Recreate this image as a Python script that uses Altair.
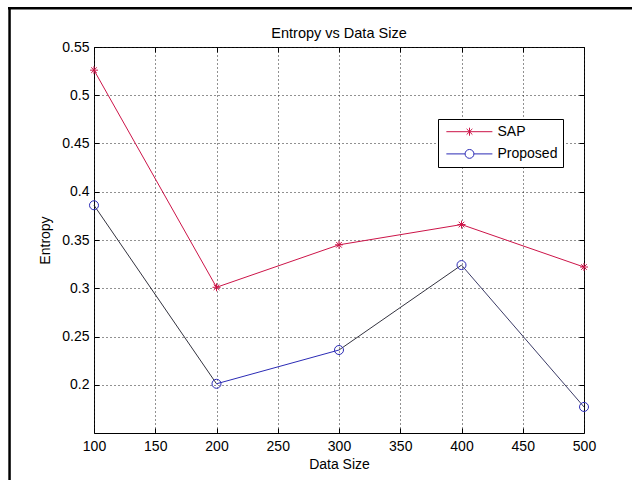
import altair as alt
import pandas as pd

# ---- data ----
data_size = [100, 200, 300, 400, 500]
sap = [0.526, 0.301, 0.345, 0.366, 0.322]
proposed = [0.386, 0.201, 0.236, 0.324, 0.177]
series_names = ["SAP", "Proposed"]
x_ticks = [100, 150, 200, 250, 300, 350, 400, 450, 500]
y_ticks = [0.2, 0.25, 0.3, 0.35, 0.4, 0.45, 0.5, 0.55]

# ---- styles ----
RED = "#cc1448"
BLUE = "#2b2bb5"
segment_colors = ["#33333f", "#2b2bb5", "#33333f", "#3b3b66"]
FONT = "Liberation Sans"
W, H = 490, 386
PAD_L, PAD_T = 94, 47
TOTAL_H = 480

ASTERISK = "M-1,0L1,0M0,-1L0,1M-0.7,-0.7L0.7,0.7M-0.7,0.7L0.7,-0.7"
LEG_SAP = ("M-0.89,0L0.88,0M0,-0.154L0,0.154"
           "M-0.11,-0.11L0.11,0.11M-0.11,0.11L0.11,-0.11")
LEG_PROP = ("M-0.89,0L-0.17,0M0.17,0L0.88,0"
            "M0.17,0A0.17,0.17,0,1,1,-0.17,0A0.17,0.17,0,1,1,0.17,0")

df = pd.DataFrame({
    "size": data_size * 2,
    "entropy": sap + proposed,
    "series": ["SAP"] * len(sap) + ["Proposed"] * len(proposed),
})
seg = pd.DataFrame({
    "x": data_size[:-1], "x2": data_size[1:],
    "y": proposed[:-1], "y2": proposed[1:],
    "seg": [f"s{i}" for i in range(len(data_size) - 1)],
})
one = pd.DataFrame({"a": [0]})

xs = alt.Scale(domain=[100, 500], nice=False, zero=False)
ys = alt.Scale(domain=[0.15, 0.55], nice=False, zero=False)

main_x_axis = alt.Axis(values=x_ticks, grid=True, gridDash=[1, 3], gridColor="#222",
                       gridOpacity=1, domain=False, ticks=False, labelFont=FONT,
                       labelFontSize=14, labelColor="black", labelPadding=6,
                       labelFlush=False,
                       title="Data Size", titleFont=FONT, titleFontSize=14,
                       titleFontWeight="normal", titleColor="black", titlePadding=4)
main_y_axis = alt.Axis(values=y_ticks, format=".2~f", grid=True, gridDash=[1, 3],
                       gridColor="#222", gridOpacity=1, domain=False, ticks=False,
                       labelFont=FONT, labelFontSize=14, labelColor="black",
                       labelPadding=5, labelFlush=False, title="Entropy", titleFont=FONT,
                       titleFontSize=14, titleFontWeight="normal",
                       titleColor="black", titlePadding=9)

base = alt.Chart(df)

sap_line = base.transform_filter(alt.datum.series == "SAP").mark_line(
    color=RED, strokeWidth=1).encode(
    x=alt.X("size:Q", scale=xs, axis=main_x_axis),
    y=alt.Y("entropy:Q", scale=ys, axis=main_y_axis),
)
sap_pts = base.transform_filter(alt.datum.series == "SAP").mark_point(
    shape=ASTERISK, size=64, color=RED, strokeWidth=1, filled=False, opacity=1).encode(
    x=alt.X("size:Q", scale=xs, axis=None),
    y=alt.Y("entropy:Q", scale=ys, axis=None),
)
prop_segs = alt.Chart(seg).mark_rule(strokeWidth=1).encode(
    x=alt.X("x:Q", scale=xs, axis=None),
    x2="x2:Q",
    y=alt.Y("y:Q", scale=ys, axis=None),
    y2="y2:Q",
    color=alt.Color("seg:N", scale=alt.Scale(domain=seg["seg"].tolist(),
                                             range=segment_colors), legend=None),
)
prop_pts = base.transform_filter(alt.datum.series == "Proposed").mark_point(
    shape="circle", size=81, color=BLUE, strokeWidth=1, filled=False, opacity=1).encode(
    x=alt.X("size:Q", scale=xs, axis=None),
    y=alt.Y("entropy:Q", scale=ys, axis=None),
)

leg = alt.Legend(title=None, orient="none", legendX=438 - PAD_L, legendY=119 - PAD_T,
                 padding=5, strokeColor="black", fillColor="white", cornerRadius=0,
                 symbolSize=2704, symbolStrokeWidth=1, symbolOpacity=1,
                 symbolFillColor="transparent", labelFont=FONT, labelFontSize=14,
                 labelColor="black", labelOffset=1.5, clipHeight=15.4, rowPadding=6.2)
legend_layer = base.mark_point(filled=False, opacity=0).encode(
    x=alt.X("size:Q", scale=xs, axis=None),
    y=alt.Y("entropy:Q", scale=ys, axis=None),
    color=alt.Color("series:N", scale=alt.Scale(domain=series_names, range=[RED, BLUE]),
                    legend=leg),
    shape=alt.Shape("series:N", scale=alt.Scale(domain=series_names,
                                                range=[LEG_SAP, LEG_PROP]), legend=leg),
)

tick_common = dict(labels=False, domain=False, grid=False, ticks=True, tickSize=5,
                   tickColor="black", tickWidth=1, title=None)
ticks_a = base.mark_point(opacity=0).encode(
    x=alt.X("size:Q", scale=xs, axis=alt.Axis(orient="top", offset=-H, values=x_ticks, **tick_common)),
    y=alt.Y("entropy:Q", scale=ys, axis=alt.Axis(orient="right", offset=-W, values=y_ticks, **tick_common)),
)
ticks_b = base.mark_point(opacity=0).encode(
    x=alt.X("size:Q", scale=xs, axis=alt.Axis(orient="bottom", offset=-H, values=x_ticks, **tick_common)),
    y=alt.Y("entropy:Q", scale=ys, axis=alt.Axis(orient="left", offset=-W, values=y_ticks, **tick_common)),
)

# image border (top and left edges of the cropped figure frame) as thin filled bars
border_top = alt.Chart(one).mark_rect(color="black", strokeWidth=0).encode(
    x=alt.value(8 - PAD_L), x2=alt.value(632 - PAD_L),
    y=alt.value(7 - PAD_T), y2=alt.value(9.5 - PAD_T))
border_left = alt.Chart(one).mark_rect(color="black", strokeWidth=0).encode(
    x=alt.value(8.3 - PAD_L), x2=alt.value(10.8 - PAD_L),
    y=alt.value(7 - PAD_T), y2=alt.value(TOTAL_H - PAD_T))

chart = alt.layer(
    sap_line, prop_segs, sap_pts, prop_pts, legend_layer, ticks_a, ticks_b,
    border_top, border_left,
).resolve_axis(x="independent", y="independent").resolve_scale(
    color="independent", shape="independent"
).properties(
    width=W, height=H,
    title=alt.Title("Entropy vs Data Size", font=FONT, fontSize=14.5,
                    fontWeight="normal", color="black", offset=0,
                    baseline="bottom", dy=48),
    autosize=alt.AutoSizeParams(type="none"),
    padding={"left": PAD_L, "top": PAD_T, "right": 632 - PAD_L - W,
             "bottom": TOTAL_H - PAD_T - H},
    background="white",
).configure_view(stroke="black", strokeWidth=1)

chart.save("out.html", embed_options={"renderer": "svg", "actions": False})
